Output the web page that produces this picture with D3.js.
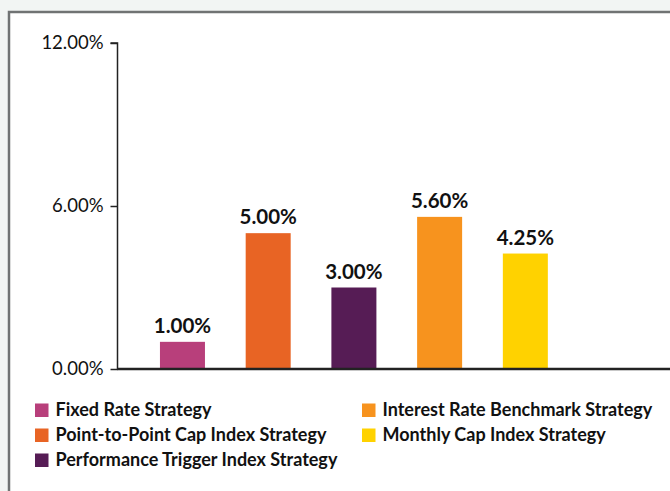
<!DOCTYPE html>
<html>
<head>
<meta charset="utf-8">
<script src="https://cdn.jsdelivr.net/npm/d3@7"></script>
<style>
  html, body { margin: 0; padding: 0; background: #f2f5f3; }
  svg { display: block; }
</style>
</head>
<body>
<script>
"use strict";

// chart data
var strategies = [
  "Fixed Rate Strategy",
  "Point-to-Point Cap Index Strategy",
  "Performance Trigger Index Strategy",
  "Interest Rate Benchmark Strategy",
  "Monthly Cap Index Strategy"
];
var rates = [1.00, 5.00, 3.00, 5.60, 4.25];
var barColors = ["#b83f7b", "#e86424", "#561c55", "#f7931e", "#ffd200"];
var yTicks = [0, 6, 12];

var width = 670, height = 491;

var svg = d3.select("body").append("svg")
  .attr("width", width)
  .attr("height", height);

// white panel with gray border (runs off the right and bottom edges)
svg.append("rect")
  .attr("x", 9).attr("y", 12)
  .attr("width", width + 10).attr("height", height + 10)
  .attr("fill", "#ffffff")
  .attr("stroke", "#707373")
  .attr("stroke-width", 2.5);

// scales
var y = d3.scaleLinear().domain([0, 12]).range([369, 43]);
var x = d3.scaleBand()
  .domain(strategies)
  .range([139.6, 568.2])
  .paddingInner(0.475)
  .paddingOuter(0.2375);

// y axis
var yAxis = d3.axisLeft(y)
  .tickValues(yTicks)
  .tickFormat(function(d) { return d3.format(".2f")(d) + "%"; })
  .tickSize(7)
  .tickPadding(7);

var gy = svg.append("g")
  .attr("transform", "translate(117.5,0)")
  .call(yAxis);
gy.select(".domain").attr("stroke", "#222").attr("stroke-width", 1.5)
  .attr("d", "M-7," + y(12) + "H0V" + y(0));
gy.selectAll(".tick line").attr("stroke", "#222").attr("stroke-width", 1.5);
gy.selectAll(".tick text")
  .attr("fill", "#111")
  .style("font-family", "Lato, sans-serif")
  .style("font-size", "18.5px");

// bars
svg.append("g")
  .selectAll("rect")
  .data(rates)
  .enter()
  .append("rect")
  .attr("x", function(d, i) { return x(strategies[i]); })
  .attr("y", function(d) { return y(d); })
  .attr("width", x.bandwidth())
  .attr("height", function(d) { return y(0) - y(d); })
  .attr("fill", function(d, i) { return barColors[i]; });

// baseline
svg.append("line")
  .attr("x1", 117).attr("x2", width)
  .attr("y1", y(0)).attr("y2", y(0))
  .attr("stroke", "#222")
  .attr("stroke-width", 2.5);

// value labels
svg.append("g")
  .selectAll("text")
  .data(rates)
  .enter()
  .append("text")
  .attr("x", function(d, i) { return x(strategies[i]) + x.bandwidth() / 2; })
  .attr("y", function(d) { return y(d) - 9; })
  .attr("text-anchor", "middle")
  .attr("fill", "#111")
  .style("font-family", "Lato, sans-serif")
  .style("font-weight", "bold")
  .style("font-size", "20.5px")
  .text(function(d) { return d3.format(".2f")(d) + "%"; });

// legend (two columns)
var legendOrder = [0, 1, 2, 3, 4];
var legend = svg.append("g")
  .selectAll("g")
  .data(legendOrder)
  .enter()
  .append("g")
  .attr("transform", function(d) {
    var col = d < 3 ? 0 : 1;
    var row = d < 3 ? d : d - 3;
    return "translate(" + (col === 0 ? 35 : 362) + "," + (403.5 + row * 25) + ")";
  });

legend.append("rect")
  .attr("width", 13.5).attr("height", 13.5)
  .attr("fill", function(d) { return barColors[d]; });

legend.append("text")
  .attr("x", 20.5)
  .attr("y", 12.5)
  .attr("fill", "#111")
  .style("font-family", "Lato, sans-serif")
  .style("font-weight", "bold")
  .style("font-size", "18px")
  .text(function(d) { return strategies[d]; });
</script>
</body>
</html>
